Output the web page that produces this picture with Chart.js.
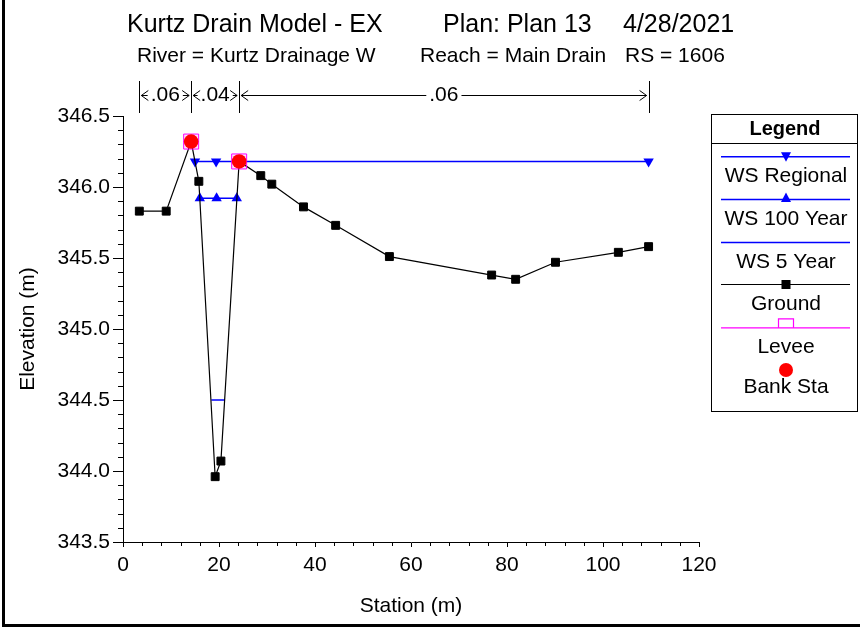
<!DOCTYPE html>
<html>
<head>
<meta charset="utf-8">
<script src="https://cdn.jsdelivr.net/npm/chart.js@4.4.0/dist/chart.umd.min.js"></script>
<style>
    body { margin: 0; background: #fff; }
</style>
</head>
<body>
<canvas id="xsChart" width="860" height="629"></canvas>
<script>
// cross section data (station m, elevation m)
const groundSta = [3.4, 9.0, 14.2, 15.8, 19.2, 20.4, 24.2, 28.7, 31.0, 37.6, 44.3, 55.5, 76.8, 81.8, 90.1, 103.2, 109.5];
const groundElev = [345.83, 345.83, 346.32, 346.04, 343.96, 344.07, 346.18, 346.08, 346.02, 345.86, 345.73, 345.51, 345.38, 345.35, 345.47, 345.54, 345.58];

const wsRegionalSta = [15.0, 19.4, 109.5];
const wsRegionalElev = [346.18, 346.18, 346.18];

const ws100Sta = [16.0, 19.5, 23.7];
const ws100Elev = [345.92, 345.92, 345.92];

const ws5Sta = [18.4, 21.2];
const ws5Elev = [344.5, 344.5];

const leveeSta = [14.2, 24.2];
const leveeElev = [346.32, 346.18];

const bankSta = [14.2, 24.2];
const bankElev = [346.32, 346.18];

// manning's n breaks along the top
const nBreaks = [3.4, 14.2, 24.2, 109.5];
const nValues = [".06", ".04", ".06"];

const xTicks = [0, 20, 40, 60, 80, 100, 120];
const yTicks = [343.5, 344.0, 344.5, 345.0, 345.5, 346.0, 346.5];

const legendNames = ["WS Regional", "WS 100 Year", "WS 5 Year", "Ground", "Levee", "Bank Sta"];

const FONT = "'Liberation Sans', Arial, sans-serif";
const BLUE = "#0000ff";
const MAGENTA = "#ff00ff";

function pts(xs, ys) {
    return xs.map((x, i) => ({ x: x, y: ys[i] }));
}

function tri(ctx, x, y, down) {
    ctx.beginPath();
    if (down) {
        ctx.moveTo(x - 5, y - 4.5); ctx.lineTo(x + 5, y - 4.5); ctx.lineTo(x, y + 5);
    } else {
        ctx.moveTo(x - 5, y + 4.5); ctx.lineTo(x + 5, y + 4.5); ctx.lineTo(x, y - 5);
    }
    ctx.closePath();
    ctx.fill();
}

const extras = {
    id: "extras",
    afterDraw(chart) {
        const ctx = chart.ctx;
        const xs = chart.scales.x, ys = chart.scales.y;
        ctx.save();

        // frame
        ctx.fillStyle = "#000";
        ctx.fillRect(2, 0, 3, 627);
        ctx.fillRect(2, 624, 858, 3);

        // titles
        ctx.textAlign = "left";
        ctx.textBaseline = "alphabetic";
        ctx.font = "25px " + FONT;
        ctx.fillText("Kurtz Drain Model - EX", 127, 32);
        ctx.fillText("Plan: Plan 13", 443, 32);
        ctx.fillText("4/28/2021", 623, 32);
        ctx.font = "21px " + FONT;
        ctx.fillText("River = Kurtz Drainage W", 137, 62);
        ctx.fillText("Reach = Main Drain", 420, 62);
        ctx.fillText("RS = 1606", 625, 62);

        // minor ticks
        ctx.strokeStyle = "#000";
        ctx.lineWidth = 1;
        ctx.beginPath();
        for (let v = 0; v <= 120; v += 4) {
            if (v % 20 === 0) continue;
            const px = Math.round(xs.getPixelForValue(v)) + 0.5;
            ctx.moveTo(px, xs.top); ctx.lineTo(px, xs.top + 4);
        }
        for (let i = 0; i <= 30; i++) {
            if (i % 5 === 0) continue;
            const py = Math.round(ys.getPixelForValue(343.5 + i * 0.1)) + 0.5;
            ctx.moveTo(ys.right - 5, py); ctx.lineTo(ys.right, py);
        }
        ctx.stroke();

        // n value breaks
        ctx.font = "21px " + FONT;
        ctx.textAlign = "center";
        ctx.textBaseline = "middle";
        const ny = 95.5;
        ctx.beginPath();
        nBreaks.forEach(s => {
            const px = Math.round(xs.getPixelForValue(s)) + 0.5;
            ctx.moveTo(px, 81); ctx.lineTo(px, 113);
        });
        for (let i = 0; i < nValues.length; i++) {
            const a = xs.getPixelForValue(nBreaks[i]) + 1;
            const b = xs.getPixelForValue(nBreaks[i + 1]) - 1;
            const mid = (a + b) / 2;
            const tw = ctx.measureText(nValues[i]).width;
            ctx.fillText(nValues[i], mid, ny);
            // arrowheads
            ctx.moveTo(a + 8, ny - 5); ctx.lineTo(a + 1, ny); ctx.lineTo(a + 8, ny + 5);
            ctx.moveTo(b - 8, ny - 5); ctx.lineTo(b - 1, ny); ctx.lineTo(b - 8, ny + 5);
            const l1 = mid - tw / 2 - 3, r1 = mid + tw / 2 + 3;
            if (l1 > a + 4) { ctx.moveTo(a + 1, ny); ctx.lineTo(l1, ny); }
            if (r1 < b - 4) { ctx.moveTo(r1, ny); ctx.lineTo(b - 1, ny); }
        }
        ctx.stroke();

        // legend box
        ctx.strokeRect(711.5, 114.5, 146, 297);
        ctx.beginPath();
        ctx.moveTo(711, 143.5); ctx.lineTo(858, 143.5);
        ctx.stroke();
        ctx.font = "bold 20px " + FONT;
        ctx.fillStyle = "#000";
        ctx.fillText("Legend", 785, 129);

        const lineYs = [156.7, 199.4, 242.6, 284.5, 327.8, 370];
        const cx = 786;
        ctx.font = "21px " + FONT;
        legendNames.forEach((name, i) => {
            const ly = lineYs[i];
            if (i < 5) {
                ctx.beginPath();
                ctx.strokeStyle = i < 3 ? BLUE : (i === 3 ? "#000" : MAGENTA);
                ctx.lineWidth = i < 3 ? 1.5 : 1.2;
                ctx.moveTo(721, ly); ctx.lineTo(850, ly);
                ctx.stroke();
            }
            if (i === 0) { ctx.fillStyle = BLUE; tri(ctx, cx, ly, true); }
            if (i === 1) { ctx.fillStyle = BLUE; tri(ctx, cx, ly - 2, false); }
            if (i === 3) { ctx.fillStyle = "#000"; ctx.fillRect(cx - 4.5, ly - 4.5, 9, 9); }
            if (i === 4) {
                ctx.beginPath();
                ctx.strokeStyle = MAGENTA; ctx.lineWidth = 1.2;
                ctx.moveTo(cx - 7.5, ly); ctx.lineTo(cx - 7.5, ly - 9);
                ctx.lineTo(cx + 7.5, ly - 9); ctx.lineTo(cx + 7.5, ly);
                ctx.stroke();
            }
            if (i === 5) {
                ctx.fillStyle = "#ff0000";
                ctx.beginPath(); ctx.arc(cx, ly, 7, 0, Math.PI * 2); ctx.fill();
            }
            ctx.fillStyle = "#000";
            ctx.fillText(name, cx, i === 5 ? ly + 17 : ly + 19.5);
        });

        ctx.restore();
    }
};

new Chart(document.getElementById("xsChart"), {
    type: "scatter",
    data: {
        datasets: [
            {
                label: "Bank Sta",
                data: pts(bankSta, bankElev),
                showLine: false,
                pointStyle: "circle",
                pointRadius: 7.3,
                pointBorderWidth: 0,
                backgroundColor: "#ff0000",
                borderColor: "#ff0000",
                order: 0
            },
            {
                label: "Levee",
                data: pts(leveeSta, leveeElev),
                showLine: false,
                pointStyle: "rect",
                pointRadius: 10.6,
                pointBorderWidth: 1,
                backgroundColor: "rgba(255,0,255,0.12)",
                borderColor: MAGENTA,
                order: 1
            },
            {
                label: "Ground",
                data: pts(groundSta, groundElev),
                showLine: true,
                borderColor: "#000",
                borderWidth: 1.2,
                pointStyle: "rect",
                pointRadius: 5.6,
                pointBorderWidth: 1,
                backgroundColor: "#000",
                order: 2
            },
            {
                label: "WS 5 Year",
                data: pts(ws5Sta, ws5Elev),
                showLine: true,
                borderColor: BLUE,
                borderWidth: 1.5,
                pointRadius: 0,
                order: 3
            },
            {
                label: "WS 100 Year",
                data: pts(ws100Sta, ws100Elev),
                showLine: true,
                borderColor: BLUE,
                borderWidth: 1.5,
                backgroundColor: BLUE,
                pointStyle: "triangle",
                pointRadius: 6,
                pointBorderWidth: 0,
                order: 4
            },
            {
                label: "WS Regional",
                data: pts(wsRegionalSta, wsRegionalElev),
                showLine: true,
                borderColor: BLUE,
                borderWidth: 1.5,
                backgroundColor: BLUE,
                pointStyle: "triangle",
                pointRotation: 180,
                pointRadius: 6,
                pointBorderWidth: 0,
                order: 5
            }
        ]
    },
    options: {
        responsive: false,
        animation: false,
        devicePixelRatio: 1,
        layout: { padding: { left: 0, right: 161, top: 116, bottom: 0 } },
        plugins: {
            legend: { display: false },
            tooltip: { enabled: false }
        },
        scales: {
            x: {
                type: "linear",
                min: 0,
                max: 120,
                afterBuildTicks: s => { s.ticks = xTicks.map(v => ({ value: v })); },
                afterFit: s => { s.height = 87; s.paddingLeft = 0; s.paddingRight = 0; },
                grid: { drawOnChartArea: false, tickLength: 5, color: "#000" },
                border: { color: "#000", width: 1 },
                ticks: {
                    color: "#000",
                    font: { family: FONT, size: 21 },
                    padding: 6,
                    maxRotation: 0,
                    autoSkip: false
                },
                title: {
                    display: true,
                    text: "Station (m)",
                    color: "#000",
                    font: { family: FONT, size: 21 },
                    padding: { bottom: 10 }
                }
            },
            y: {
                type: "linear",
                min: 343.5,
                max: 346.5,
                afterBuildTicks: s => { s.ticks = yTicks.map(v => ({ value: v })); },
                afterFit: s => { s.width = 123; s.paddingTop = 0; s.paddingBottom = 0; },
                grid: { drawOnChartArea: false, tickLength: 10, color: "#000" },
                border: { color: "#000", width: 1 },
                ticks: {
                    color: "#000",
                    font: { family: FONT, size: 21 },
                    padding: 3,
                    autoSkip: false,
                    callback: v => v.toFixed(1)
                },
                title: {
                    display: true,
                    text: "Elevation (m)",
                    color: "#000",
                    font: { family: FONT, size: 21 },
                    padding: { top: 16 }
                }
            }
        }
    },
    plugins: [extras]
});
</script>
</body>
</html>
